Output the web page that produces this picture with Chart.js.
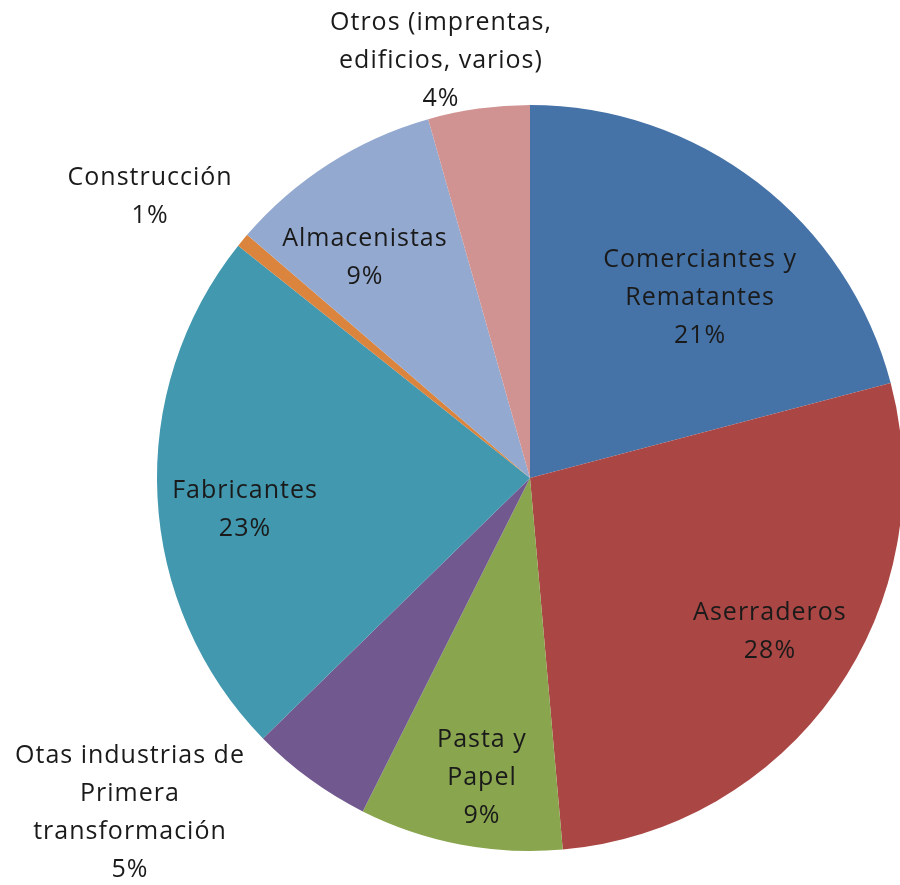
<!DOCTYPE html>
<html><head><meta charset="utf-8">
<script src="https://cdn.jsdelivr.net/npm/chart.js@4/dist/chart.umd.min.js"></script>
<style>html,body{margin:0;padding:0;background:#fff;overflow:hidden}#wrap{position:relative;width:900px;height:885px}</style>
</head><body><div id="wrap"><canvas id="c"></canvas></div>
<script>
// Categories in clockwise order from 12 o'clock
const categories = [
  "Comerciantes y Rematantes",
  "Aserraderos",
  "Pasta y Papel",
  "Otas industrias de Primera transformación",
  "Fabricantes",
  "Construcción",
  "Almacenistas",
  "Otros (imprentas, edificios, varios)"
];
// Label text broken into lines as in the reference
const labelLines = [
  ["Comerciantes y", "Rematantes"],
  ["Aserraderos"],
  ["Pasta y", "Papel"],
  ["Otas industrias de", "Primera", "transformación"],
  ["Fabricantes"],
  ["Construcción"],
  ["Almacenistas"],
  ["Otros (imprentas,", "edificios, varios)"]
];
// Shares (%)
const values = [20.9, 27.7, 8.8, 5.3, 23.0, 0.6, 9.3, 4.4];
const colors = ["#4572A7", "#AA4643", "#89A54E", "#71588F", "#4198AF", "#DB843D", "#93A9CF", "#D19392"];
// Label placement: polar (degrees clockwise from top, distance from pie centre)
const labelAngle = [43.4, 122.7, 189.1, 230.05, 263.6, 306.5, 323.1, 347.95];
const labelDist  = [247.6, 285.1, 303.8, 521.8, 286.8, 472.6, 275.0, 426.4];

const total = values.reduce((a, b) => a + b, 0);

const labelPlugin = {
  id: 'sliceLabels',
  afterDraw(chart) {
    const ctx = chart.ctx;
    const meta = chart.getDatasetMeta(0);
    const arc0 = meta.data[0];
    const cx = arc0.x, cy = arc0.y;
    ctx.save();
    ctx.font = '25px "Open Sans", sans-serif';
    try { ctx.letterSpacing = '1px'; } catch (e) {}
    ctx.fillStyle = '#1a1a1a';
    ctx.textAlign = 'center';
    ctx.textBaseline = 'middle';
    const lh = 38;
    values.forEach((v, i) => {
      const lines = labelLines[i].concat([Math.round(v / total * 100) + '%']);
      const a = labelAngle[i] * Math.PI / 180;
      const x = cx + labelDist[i] * Math.sin(a);
      const y = cy - labelDist[i] * Math.cos(a);
      const y0 = y - (lines.length - 1) * lh / 2;
      lines.forEach((t, k) => ctx.fillText(t, x, y0 + k * lh));
    });
    ctx.restore();
  }
};

new Chart(document.getElementById('c'), {
  type: 'pie',
  data: {
    labels: categories,
    datasets: [{
      data: values,
      backgroundColor: colors,
      borderWidth: 0,
      hoverOffset: 0,
      offset: 0
    }]
  },
  options: {
    responsive: true,
    maintainAspectRatio: false,
    animation: false,
    events: [],
    radius: 373,
    layout: { padding: { left: 160, right: 0, top: 71, bottom: 0 } },
    plugins: { legend: { display: false }, tooltip: { enabled: false } }
  },
  plugins: [labelPlugin]
});
</script>
</body></html>
